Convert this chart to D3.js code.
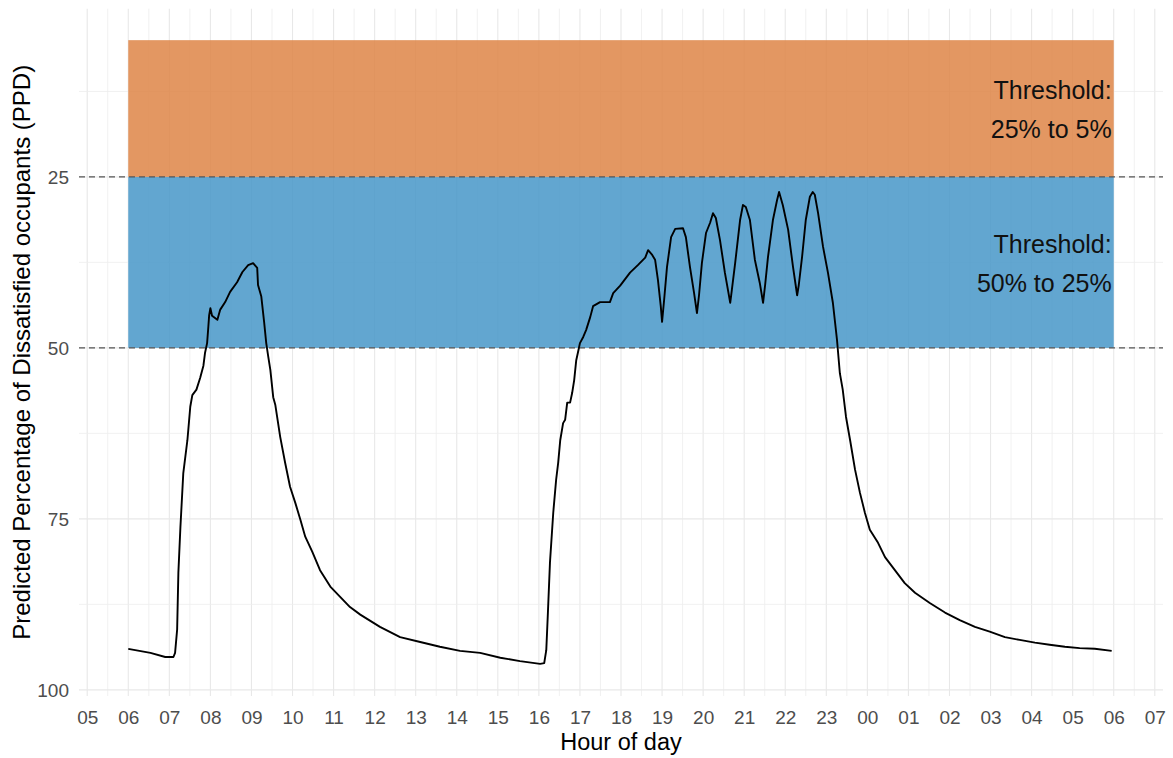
<!DOCTYPE html>
<html>
<head>
<meta charset="utf-8">
<script src="https://cdn.jsdelivr.net/npm/d3@7"></script>
<style>
  body { margin: 0; background: #ffffff; }
  text { font-family: "Liberation Sans", Arial, sans-serif; }
</style>
</head>
<body>
<svg id="chart" width="1173" height="758"></svg>
<script>
// Hours are counted from midnight of the first day (24+ = next morning)
const hourOfDay = [
  6.00, 6.54, 6.90, 7.10, 7.14, 7.19, 7.22, 7.27, 7.34, 7.44, 7.51, 7.56, 7.66, 7.75, 7.83, 7.87, 7.92,
  7.95, 7.97, 8.00, 8.04, 8.17, 8.24, 8.36, 8.48, 8.65, 8.78, 8.92, 9.04, 9.14, 9.16, 9.24, 9.31,
  9.36, 9.41, 9.46, 9.53, 9.58, 9.70, 9.82, 9.94, 10.07, 10.19, 10.31, 10.48, 10.67, 10.92, 11.16,
  11.40, 11.65, 12.13, 12.62, 13.11, 13.59, 14.08, 14.57, 15.06, 15.54, 16.03, 16.13, 16.18, 16.22,
  16.27, 16.35, 16.42, 16.47, 16.52, 16.59, 16.64, 16.69, 16.76, 16.81, 16.86, 16.91, 16.95, 17.00,
  17.08, 17.15, 17.25, 17.32, 17.49, 17.73, 17.81, 17.98, 18.22, 18.41, 18.59, 18.66, 18.76, 18.83,
  18.90, 18.97, 19.00, 19.05, 19.12, 19.22, 19.32, 19.51, 19.58, 19.68, 19.78, 19.85, 19.90, 19.97,
  20.07, 20.17, 20.24, 20.31, 20.41, 20.53, 20.66, 20.70, 20.78, 20.90, 20.97, 21.04, 21.14, 21.26,
  21.38, 21.46, 21.51, 21.58, 21.70, 21.80, 21.85, 21.94, 22.07, 22.19, 22.29, 22.33, 22.41, 22.50,
  22.60, 22.67, 22.72, 22.80, 22.92, 23.04, 23.16, 23.26, 23.33, 23.40, 23.48, 23.58, 23.70, 23.82,
  23.94, 24.06, 24.26, 24.43, 24.67, 24.91, 25.16, 25.52, 25.89, 26.25, 26.62, 26.98, 27.35, 27.71,
  28.08, 28.44, 28.81, 29.17, 29.54, 29.95
];

// Predicted Percentage of Dissatisfied (%)
const ppd = [
  94.0, 94.6, 95.2, 95.2, 94.6, 91.2, 82.9, 76.2, 68.3, 63.5, 58.6, 56.9, 56.1, 54.4, 52.6, 50.7, 49.3,
  46.9, 45.2, 44.2, 45.3, 45.9, 44.4, 43.3, 41.8, 40.4, 38.9, 37.9, 37.6, 38.3, 40.8, 42.5, 46.3,
  49.3, 51.3, 53.2, 57.2, 58.3, 63.0, 66.8, 70.3, 72.7, 75.1, 77.6, 79.8, 82.5, 84.9, 86.4,
  87.9, 89.0, 90.8, 92.3, 93.0, 93.7, 94.3, 94.6, 95.3, 95.8, 96.2, 96.1, 94.2, 88.7,
  81.4, 74.1, 69.3, 66.8, 63.5, 61.0, 60.5, 58.0, 58.0, 56.6, 54.7, 51.8, 50.7, 49.3,
  48.4, 47.4, 45.5, 43.9, 43.3, 43.3, 42.0, 40.9, 39.0, 37.9, 36.8, 35.7, 36.4, 37.1,
  40.1, 44.0, 46.2, 43.0, 38.2, 33.8, 32.6, 32.5, 33.8, 38.2, 42.0, 44.9, 42.3, 37.6,
  33.2, 31.7, 30.3, 31.0, 34.2, 39.0, 43.4, 41.5, 37.6, 31.3, 29.1, 29.4, 31.3, 37.1,
  40.5, 43.4, 40.8, 36.7, 31.3, 28.4, 27.2, 29.1, 32.7, 38.2, 42.3, 40.8, 36.7, 31.3,
  27.9, 27.2, 27.6, 30.3, 35.2, 39.0, 43.4, 48.8, 53.7, 56.1, 60.1, 63.5, 67.8, 71.2,
  74.1, 76.6, 78.5, 80.6, 82.5, 84.4, 85.8, 87.3, 88.7, 89.8, 90.8, 91.5, 92.3, 92.7,
  93.1, 93.4, 93.7, 93.9, 94.0, 94.3
];

const xTickHours = [5, 6, 7, 8, 9, 10, 11, 12, 13, 14, 15, 16, 17, 18, 19, 20, 21, 22, 23, 24, 25, 26, 27, 28, 29, 30, 31];
const xTickLabels = ["05", "06", "07", "08", "09", "10", "11", "12", "13", "14", "15", "16", "17", "18",
                     "19", "20", "21", "22", "23", "00", "01", "02", "03", "04", "05", "06", "07"];
const yTicks = [25, 50, 75, 100];
const yMinorTicks = [12.5, 37.5, 62.5, 87.5];

// Comfort threshold bands
const thresholdLower = [5, 25];
const thresholdUpper = [25, 50];
const thresholdLabels = [["Threshold:", "25% to 5%"], ["Threshold:", "50% to 25%"]];
const thresholdColors = ["#de8547", "#4797c8"];
const dashedLevels = [25, 50];
const bandStart = 6, bandEnd = 30;

const svg = d3.select("#chart");
const panel = { left: 79, right: 1163, top: 8.7, bottom: 696 };

const x = d3.scaleLinear().domain([4.8, 31.2]).range([panel.left, panel.right]);
const y = d3.scaleLinear().domain([0.4, 100.9]).range([panel.top, panel.bottom]);

// Grid
const grid = svg.append("g");
const minorX = d3.range(4.5, 31.5, 0.5).filter(h => h >= 4.8 && h <= 31.2 && !xTickHours.includes(h));
grid.selectAll(".vminor").data(minorX).join("line")
  .attr("x1", d => x(d)).attr("x2", d => x(d))
  .attr("y1", panel.top).attr("y2", panel.bottom)
  .attr("stroke", "#ededed").attr("stroke-width", 0.8);
grid.selectAll(".vmajor").data(xTickHours).join("line")
  .attr("x1", d => x(d)).attr("x2", d => x(d))
  .attr("y1", panel.top).attr("y2", panel.bottom)
  .attr("stroke", "#e8e8e8").attr("stroke-width", 1.1);
grid.selectAll(".hminor").data(yMinorTicks).join("line")
  .attr("x1", panel.left).attr("x2", panel.right)
  .attr("y1", d => y(d)).attr("y2", d => y(d))
  .attr("stroke", "#ededed").attr("stroke-width", 0.8);
grid.selectAll(".hmajor").data(yTicks).join("line")
  .attr("x1", panel.left).attr("x2", panel.right)
  .attr("y1", d => y(d)).attr("y2", d => y(d))
  .attr("stroke", "#e8e8e8").attr("stroke-width", 1.1);

// Threshold bands
svg.append("g").selectAll("rect").data(thresholdLower).join("rect")
  .attr("x", x(bandStart))
  .attr("width", x(bandEnd) - x(bandStart))
  .attr("y", (d, i) => y(d))
  .attr("height", (d, i) => y(thresholdUpper[i]) - y(d))
  .attr("fill", (d, i) => thresholdColors[i])
  .attr("fill-opacity", 0.85);

// Dashed limit lines
svg.append("g").selectAll("line").data(dashedLevels).join("line")
  .attr("x1", panel.left).attr("x2", panel.right)
  .attr("y1", d => y(d)).attr("y2", d => y(d))
  .attr("stroke", "#555555").attr("stroke-width", 1.3)
  .attr("stroke-dasharray", "6,4");

// PPD series
const series = hourOfDay.map((h, i) => [h, ppd[i]]);
svg.append("path")
  .datum(series)
  .attr("d", d3.line().x(d => x(d[0])).y(d => y(d[1])))
  .attr("fill", "none")
  .attr("stroke", "#000000")
  .attr("stroke-width", 1.9)
  .attr("stroke-linejoin", "round");

// Band labels
const labelG = svg.append("g");
thresholdLabels.forEach((lines, i) => {
  const mid = y((thresholdLower[i] + thresholdUpper[i]) / 2);
  const t = labelG.append("text")
    .attr("x", x(bandEnd) - 2)
    .attr("y", mid)
    .attr("text-anchor", "end")
    .attr("font-size", 25)
    .attr("fill", "#111111");
  lines.forEach((ln, j) => {
    t.append("tspan")
      .attr("x", x(bandEnd) - 2)
      .attr("y", mid + (j - 0.5) * 39 + 10)
      .text(ln);
  });
});

// Axes (labels only, no axis lines)
const xAxis = d3.axisBottom(x).tickValues(xTickHours)
  .tickFormat((d, i) => xTickLabels[i]).tickSize(0).tickPadding(0);
const gx = svg.append("g").attr("transform", `translate(0,${panel.bottom})`).call(xAxis);
gx.select(".domain").remove();
gx.selectAll("text").attr("font-size", 19).attr("fill", "#4d4d4d")
  .attr("dy", null).attr("y", 28).attr("font-family", "Liberation Sans, Arial, sans-serif");

const yAxis = d3.axisLeft(y).tickValues(yTicks).tickSize(0).tickPadding(0);
const gy = svg.append("g").attr("transform", `translate(69,0)`).call(yAxis);
gy.select(".domain").remove();
gy.selectAll("text").attr("font-size", 19).attr("fill", "#4d4d4d")
  .attr("x", 0).attr("dy", "0.35em").attr("font-family", "Liberation Sans, Arial, sans-serif");

// Axis titles
svg.append("text")
  .attr("x", (panel.left + panel.right) / 2)
  .attr("y", 750)
  .attr("text-anchor", "middle")
  .attr("font-size", 23.5)
  .attr("fill", "#000000")
  .text("Hour of day");

svg.append("text")
  .attr("transform", `translate(30,${(panel.top + panel.bottom) / 2}) rotate(-90)`)
  .attr("text-anchor", "middle")
  .attr("font-size", 24)
  .attr("fill", "#000000")
  .text("Predicted Percentage of Dissatisfied occupants (PPD)");
</script>
</body>
</html>
